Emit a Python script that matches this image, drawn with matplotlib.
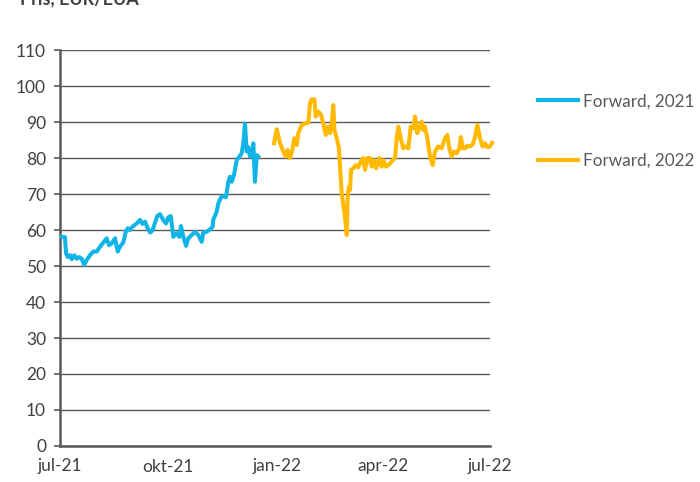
import datetime as dt
import matplotlib
matplotlib.use("Agg")
import matplotlib.pyplot as plt
from matplotlib.lines import Line2D

# ---- data (days after 2021-07-01, price EUR/EUA) ----
start = dt.date(2021, 7, 1)
days_2021 = [1.4, 4.2, 5.1, 6.5, 8.5, 9.9, 12.1, 14.2, 16.1, 18.4, 20.6, 22.7, 25.5, 28.3,
             31.2, 34, 36.8, 39.6, 41.6, 43.9, 46.7, 49, 50.9, 53.7, 55.8, 57.5, 59.4, 61.4,
             65.1, 67.9, 69.9, 72.2, 74.4, 76.4, 78.4, 82.6, 84.9, 87.7, 90, 91.9, 94, 96.2,
             99.1, 101.3, 102.7, 104.7, 107, 108.9, 111.8, 114.6, 117.4, 120.3, 121.6, 124.5,
             127.3, 129.6, 130.1, 133, 134.4, 136.7, 138.6, 140.9, 142.9, 144.3, 145.8, 147.7,
             150, 152.2, 154.2, 155.6, 157, 158.5, 159.8, 161.3, 162.7, 164.1, 165.5, 167, 168.3]
fwd_2021 = [58.1, 58, 53.6, 52.5, 53, 51.9, 53, 52, 52.5, 52, 50.3, 51.7, 53, 54,
            54, 55.4, 56.5, 57.7, 55.8, 56.3, 57.7, 54, 55.4, 56.5, 59.5, 60.5, 60, 60.9,
            61.8, 62.8, 61.7, 62.3, 60.5, 59.3, 59.8, 63.9, 64.4, 62.8, 61.8, 63.5, 63.9, 58.1,
            59.1, 58.1, 61.1, 58.1, 55.6, 57.7, 58.6, 59.5, 58.6, 56.7, 59.3, 59.5,
            60.2, 60.9, 62.9, 65.1, 67.4, 69.1, 69.4, 69.1, 73.4, 74.8, 73.4, 75.3,
            79.4, 80.4, 81.3, 84.1, 89.6, 81.8, 83, 80.4, 81.3, 84.1, 73.4, 80.8, 80.4]

days_2022 = [181.7, 184, 186.8, 189.6, 191.6, 193.3, 195.2, 197.2, 198.9, 200.9, 202.3, 205.2,
             208, 210.8, 212.2, 213.7, 215.9, 217.1, 219.3, 221.6, 223.5, 225.6, 227.3, 229.2,
             230.6, 232, 232.9, 234.9, 236.8, 237.7, 239.1, 240.5, 241.9, 243.4, 244.2, 245.3,
             246.2, 247, 249, 251, 253.2, 255.3, 257.5, 258.9, 261.2, 263.2, 264.6, 266.6,
             268.3, 271.1, 273.1, 274.5, 276.7, 278.7, 281.5, 284.4, 285.8, 287.2, 289.2, 291.4,
             293.7, 295.7, 297.7, 299.9, 301.4, 303.3, 305, 307, 308.4, 309.8, 311.8, 314.1,
             316.4, 318.3, 321.1, 324, 326.8, 328.8, 330.5, 332.5, 334.5, 336.8, 339, 340.2,
             341.9, 343.8, 345.8, 348, 350.4, 352.3, 354.3, 356.5, 358.8, 360.8, 362.8, 365.0, 366.7]
fwd_2022 = [84.1, 88, 84.1, 81.8, 80.4, 82.2, 80, 82.2, 85.5, 83.6, 86.9, 89.2,
            89.6, 89.8, 95.2, 96.3, 96.3, 91.5, 92.9, 92, 89.6, 86.4, 88.7, 86.9,
            89.6, 94.7, 87.8, 85.5, 82.7, 77.6, 70.2, 66.9, 63.7, 58.6, 69.7, 72,
            71.1, 76.7, 77.1, 78, 77.4, 79, 80, 76.7, 80, 80, 77.6, 79.4,
            77.1, 80, 77.6, 79.4, 77.6, 78, 79, 80, 85.5, 88.7, 85.5, 82.7,
            83.2, 82.7, 88.7, 88.2, 91.5, 86.9, 88.2, 90.1, 87.8, 88.7, 85.5, 80.4,
            78, 81.8, 83.2, 82.7, 85.5, 86.4, 82.7, 80.4, 81.8, 81.3, 82.7, 85.8,
            82.7, 82.7, 83.4, 83.2, 83.8, 85.8, 89.2, 85.5, 83.2, 84.1, 83, 83.2, 84.2]

labels = ["Forward, 2021", "Forward, 2022"]
xtick_dates = [dt.date(2021, 7, 1), dt.date(2021, 10, 1), dt.date(2022, 1, 1),
               dt.date(2022, 4, 1), dt.date(2022, 7, 1)]
xtick_labels = ["jul-21", "okt-21", "jan-22", "apr-22", "jul-22"]
yticks = list(range(0, 111, 10))
title = "Pris, EUR/EUA"

# ---- style ----
plt.rcParams['font.family'] = ['Lato', 'DejaVu Sans']
c_blue = "#10B4E6"
c_orange = "#FFB900"
c_text = "#404040"
c_grid = "#595959"

fig = plt.figure(figsize=(7, 4.82), dpi=100)
ax = fig.add_axes([60 / 700, 1 - 446 / 482, 430 / 700, 396 / 482])

def to_dates(days):
    return [dt.datetime.combine(start, dt.time()) + dt.timedelta(days=d) for d in days]

ax.plot(to_dates(days_2021), fwd_2021, color=c_blue, lw=2.9, solid_joinstyle='round',
        clip_on=False, zorder=3)
ax.plot(to_dates(days_2022), fwd_2022, color=c_orange, lw=2.9, solid_joinstyle='round',
        clip_on=False, zorder=3)

ax.set_xlim(dt.datetime(2021, 7, 1), dt.datetime(2022, 7, 1))
ax.set_ylim(0, 110)
ax.set_yticks(yticks)
ax.set_xticks([dt.datetime.combine(d, dt.time()) for d in xtick_dates])
ax.set_xticklabels(xtick_labels)

ax.yaxis.grid(True, color=c_grid, lw=1.0)
ax.set_axisbelow(True)
for s in ["top", "right"]:
    ax.spines[s].set_visible(False)
for s in ["left", "bottom"]:
    ax.spines[s].set_color(c_grid)
    ax.spines[s].set_linewidth(1.8)

ax.tick_params(axis='y', direction='out', length=4, width=1.2, color=c_grid,
               labelsize=12.5, labelcolor=c_text, pad=6)
ax.tick_params(axis='x', length=0, labelsize=12.5, labelcolor=c_text, pad=9)

# legend
handles = [Line2D([], [], color=c_blue, lw=3), Line2D([], [], color=c_orange, lw=3)]
leg = fig.legend(handles, labels, loc='upper left', bbox_to_anchor=(523 / 700, 1 - 78 / 482),
                 frameon=False, fontsize=12.3, labelcolor="#595959", handlelength=2.3,
                 handletextpad=0.3, labelspacing=2.55)

fig.text(20 / 700, 1 - 4 / 482, title, fontsize=13, fontweight='bold', color=c_text,
         va='baseline', ha='left')

fig.savefig("out.png", dpi=100)
